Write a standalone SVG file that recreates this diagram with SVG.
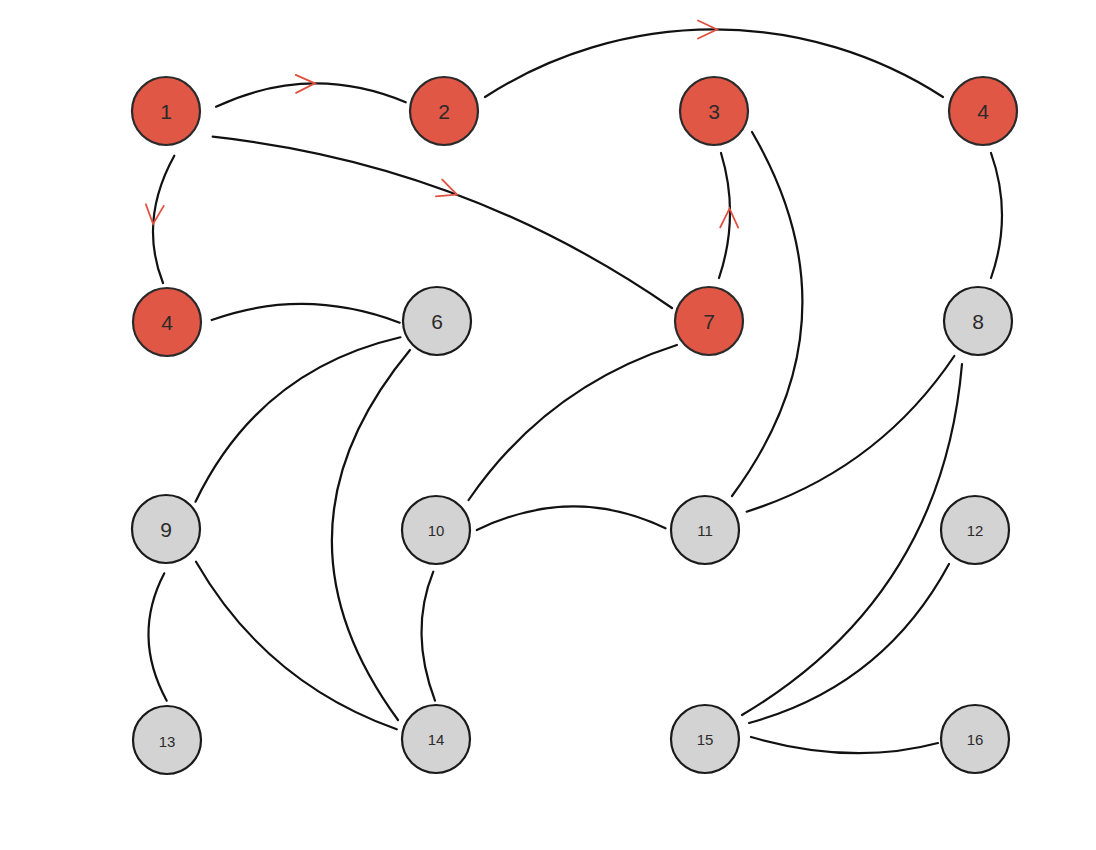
<svg xmlns="http://www.w3.org/2000/svg" xmlns:xlink="http://www.w3.org/1999/xlink" width="1096" height="850" viewBox="0 0 1096 850">
<style>
.edge{fill:none;stroke:#111;stroke-width:2.2;stroke-linecap:round}
.arrow{fill:none;stroke:#E0503E;stroke-width:1.8;stroke-linecap:round;stroke-linejoin:miter}
.red circle{fill:#E05746;stroke:#2a2a2a;stroke-width:2.2}
.gray circle{fill:#D4D3D3;stroke:#1a1a1a;stroke-width:2.2}
text{font-family:"Liberation Sans",Arial,sans-serif;fill:#2b2b2b;text-anchor:middle;dominant-baseline:central}
.big{font-size:21px}
.small{font-size:15px}
</style>
<defs>
<path id="chev" d="M-19,-9 L0,0 L-19,9"/>
</defs>
<rect width="1096" height="850" fill="#fff"/>
<g id="connectors">
<path class="edge" d="M216,106.7 Q310.9,62.5 405.7,102.3"/>
<path class="edge" d="M485,97 A422 422 0 0 1 943,97"/>
<path class="edge" d="M212.7,136.7 Q464,164 672,308"/>
<path class="edge" d="M174.3,155.7 Q138.35,220.65 163,283"/>
<path class="edge" d="M719,278 Q740,215.5 721,153"/>
<path class="edge" d="M752,132 Q862,320.6 732,496"/>
<path class="edge" d="M991,153 Q1013,215 991,278"/>
<path class="edge" d="M211.7,320 Q304.3,286.6 399.7,322.7"/>
<path class="edge" d="M400.4,337.3 Q259,369.9 195.5,501.7"/>
<path class="edge" d="M410,350 Q260,531 398,720"/>
<path class="edge" d="M676.9,345 Q546.5,386.7 468.6,500"/>
<path class="edge" d="M954.3,356 Q877.5,470 746.7,511.7"/>
<path class="edge" d="M962,364 Q942,596.5 742,715"/>
<path class="edge" d="M476.8,530 Q572.8,483.8 665.5,528.3"/>
<path class="edge" d="M164.3,573.3 Q131.5,636 166.7,700.7"/>
<path class="edge" d="M196,561.7 Q265.65,682.5 396.7,729.3"/>
<path class="edge" d="M433.3,571.7 Q408.85,631.8 435,700.7"/>
<path class="edge" d="M949,564 Q883,686.5 749,723"/>
<path class="edge" d="M751,737 Q851.5,766 938,743"/>
<use xlink:href="#chev" class="arrow" transform="translate(314.9,83.4) rotate(-1.3)"/>
<use xlink:href="#chev" class="arrow" transform="translate(717,29.5)"/>
<use xlink:href="#chev" class="arrow" transform="translate(456.9,194.6) rotate(20.5)"/>
<use xlink:href="#chev" class="arrow" transform="translate(153.1,224) rotate(95.1)"/>
<use xlink:href="#chev" class="arrow" transform="translate(729.5,208.5) rotate(-89.1)"/>
</g>
<g id="n1" class="red"><circle cx="166" cy="111" r="34"/><text class="big" x="166" y="111">1</text></g>
<g id="n2" class="red"><circle cx="444" cy="111" r="34"/><text class="big" x="444" y="111">2</text></g>
<g id="n3" class="red"><circle cx="714" cy="111" r="34"/><text class="big" x="714" y="111">3</text></g>
<g id="n4a" class="red"><circle cx="983" cy="111" r="34"/><text class="big" x="983" y="111">4</text></g>
<g id="n4b" class="red"><circle cx="167" cy="322" r="34"/><text class="big" x="167" y="322">4</text></g>
<g id="n6" class="gray"><circle cx="437" cy="321" r="34"/><text class="big" x="437" y="321">6</text></g>
<g id="n7" class="red"><circle cx="709" cy="321" r="34"/><text class="big" x="709" y="321">7</text></g>
<g id="n8" class="gray"><circle cx="978" cy="321" r="34"/><text class="big" x="978" y="321">8</text></g>
<g id="n9" class="gray"><circle cx="166" cy="529" r="34"/><text class="big" x="166" y="529">9</text></g>
<g id="n10" class="gray"><circle cx="436" cy="530" r="34"/><text class="small" x="436" y="530">10</text></g>
<g id="n11" class="gray"><circle cx="705" cy="530" r="34"/><text class="small" x="705" y="530">11</text></g>
<g id="n12" class="gray"><circle cx="975" cy="530" r="34"/><text class="small" x="975" y="530">12</text></g>
<g id="n13" class="gray"><circle cx="167" cy="740" r="34"/><text class="small" x="167" y="741">13</text></g>
<g id="n14" class="gray"><circle cx="436" cy="739" r="34"/><text class="small" x="436" y="739">14</text></g>
<g id="n15" class="gray"><circle cx="705" cy="739" r="34"/><text class="small" x="705" y="739">15</text></g>
<g id="n16" class="gray"><circle cx="975" cy="739" r="34"/><text class="small" x="975" y="739">16</text></g>
</svg>
